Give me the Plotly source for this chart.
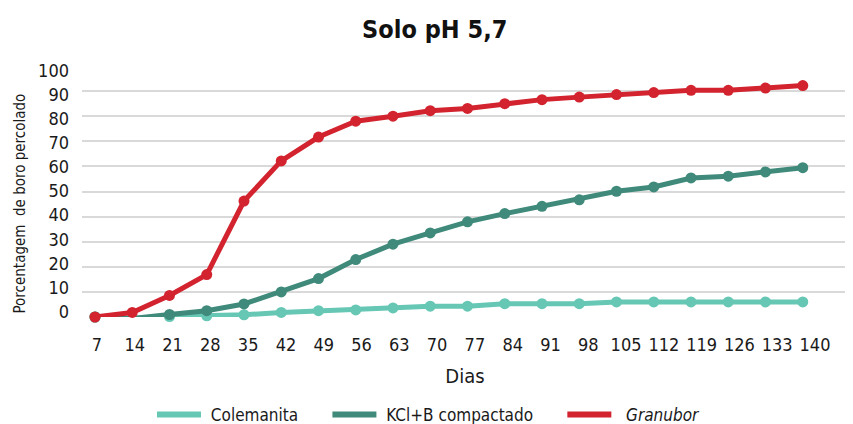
import plotly.graph_objects as go

dias = [7, 14, 21, 28, 35, 42, 49, 56, 63, 70, 77, 84, 91, 98, 105, 112, 119, 126, 133, 140]
colemanita = [0, -0.6, 0.2, 0.5, 0.9, 1.8, 2.5, 2.8, 3.6, 4.3, 4.3, 5.3, 5.3, 5.3, 6.0, 6.0, 6.0, 6.0, 6.0, 6.0]
kcl_b = [0, -0.6, 1.0, 2.5, 5.2, 10.0, 15.3, 22.9, 29.0, 33.5, 37.9, 41.2, 44.1, 46.7, 50.1, 51.8, 55.4, 56.1, 57.8, 59.5]
granubor = [0, 1.8, 8.6, 16.9, 46.2, 62.2, 71.7, 78.0, 80.0, 82.2, 83.1, 85.0, 86.6, 87.6, 88.6, 89.4, 90.3, 90.3, 91.2, 92.2]
y_ticks = [0, 10, 20, 30, 40, 50, 60, 70, 80, 90, 100]

FONT = "DejaVu Sans Condensed, Roboto, sans-serif"
NB = "\u00a0"

series = [
    (NB + "Colemanita" + NB * 5, colemanita, "#66C7B4"),
    (NB + "KCl+B compactado" + NB * 5, kcl_b, "#3F8A7A"),
    (NB + NB + "<i>Granubor</i>", granubor, "#D2232E"),
]

fig = go.Figure()
for name, vals, color in series:
    fig.add_trace(go.Scatter(
        x=dias, y=vals, name=name, mode="lines+markers",
        line=dict(color=color, width=5),
        marker=dict(color=color, size=11),
        cliponaxis=False, showlegend=False,
    ))
# legend entries: line swatches only
for name, vals, color in series:
    fig.add_trace(go.Scatter(
        x=[None], y=[None], name=name, mode="lines",
        line=dict(color=color, width=6), showlegend=True,
    ))
# carrier for the label axes
fig.add_trace(go.Scatter(x=dias, y=[None] * len(dias), xaxis="x2", yaxis="y2",
                         showlegend=False, hoverinfo="skip", mode="markers"))

fig.update_layout(
    width=845, height=416,
    margin=dict(l=74, r=5, t=58, b=107, autoexpand=False),
    paper_bgcolor="white", plot_bgcolor="white",
    font=dict(family=FONT, color="#1a1a1a", size=18),
    title=dict(text="<b>Solo pH 5,7</b>", x=0.505, xanchor="center", y=0.95, yanchor="middle",
               font=dict(size=25, family=FONT, color="#111")),
    xaxis=dict(range=[4.56, 148.5], showticklabels=False,
               showgrid=False, zeroline=False, showline=False, ticks=""),
    xaxis2=dict(range=[4.221, 146.11], overlaying="x", side="bottom", anchor="y",
                tickvals=dias, ticktext=[str(d) for d in dias],
                showgrid=False, zeroline=False, showline=False, ticks="",
                ticklabelstandoff=15,
                title=dict(text="Dias", font=dict(size=20), standoff=14),
                tickfont=dict(size=18)),
    yaxis=dict(range=[0, 100], tickvals=y_ticks, showgrid=True, gridcolor="#d9d9d9", gridwidth=1.5,
               zeroline=False, showline=False, ticks="", showticklabels=False),
    yaxis2=dict(range=[-2.195, 101.78], overlaying="y", side="left", anchor="x",
                tickvals=y_ticks, showgrid=False, zeroline=False, showline=False, ticks="",
                ticklabelstandoff=12, tickfont=dict(size=18)),
    legend=dict(orientation="h", x=0.453, xanchor="center", y=-0.39, yanchor="middle",
                font=dict(size=17), itemwidth=44, traceorder="normal", bgcolor="rgba(0,0,0,0)"),
    annotations=[dict(text="Porcentagem  de boro percolado", textangle=-90,
                      xref="paper", yref="paper", x=-0.081, y=0.452,
                      xanchor="center", yanchor="middle", showarrow=False,
                      font=dict(size=15, family=FONT, color="#1a1a1a"))],
)

fig.write_html("out.html")
